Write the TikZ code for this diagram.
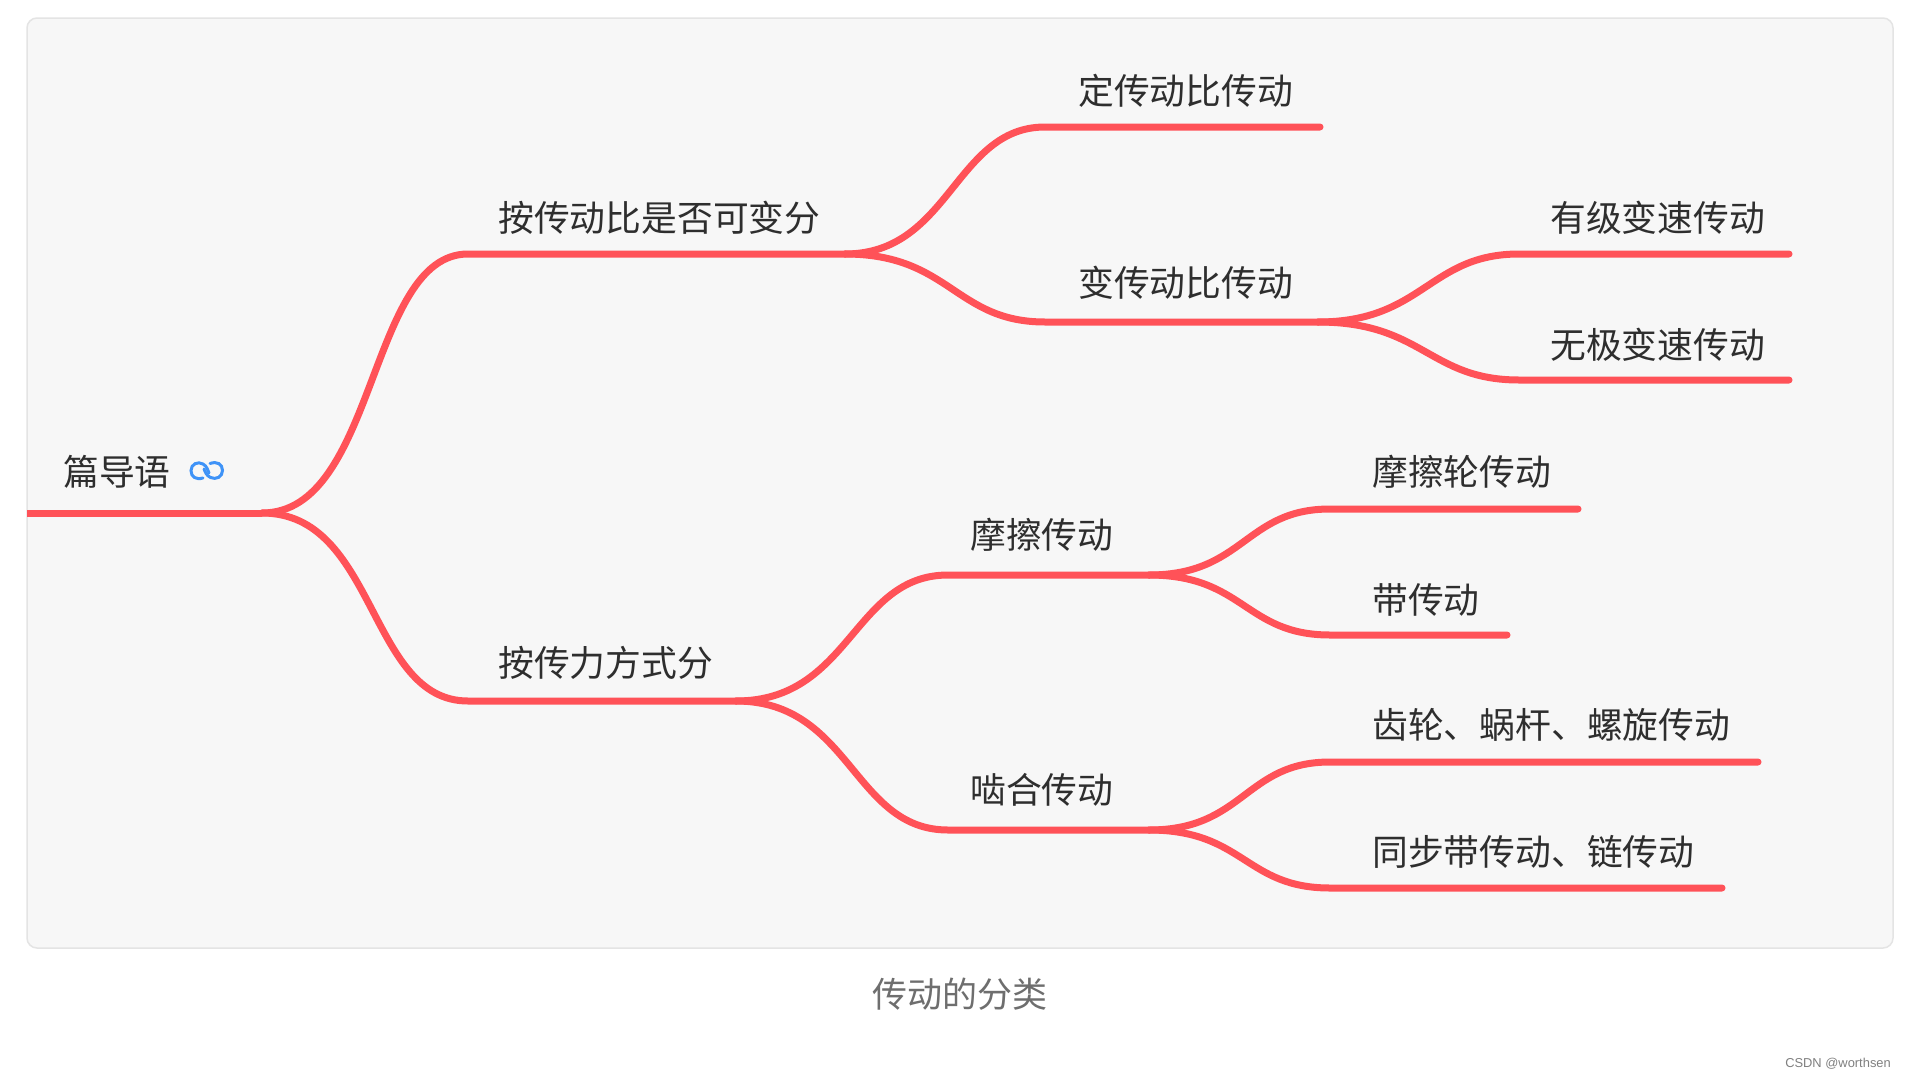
\documentclass[tikz,border=0pt]{standalone}
\usepackage{fontspec}
\setmainfont{Noto Sans CJK SC}
\newfontfamily\latinfont{Liberation Sans}
\definecolor{branchred}{HTML}{FF5258}
\definecolor{panelgrey}{HTML}{F7F7F7}
\definecolor{panelline}{HTML}{E4E4E4}
\definecolor{labeltext}{HTML}{2E2E2E}
\definecolor{captext}{HTML}{6E6E6E}
\definecolor{linkblue}{HTML}{3F93F7}
\tikzset{
  lab/.style={anchor=west,inner sep=0pt,text=labeltext,font=\fontsize{35.8}{40}\selectfont},
  branch/.style={draw=branchred,line width=7pt,line cap=round},
  rootline/.style={draw=branchred,line width=7pt,line cap=butt},
  linkloop/.style={draw=linkblue,line width=3pt,line cap=round}
}
\begin{document}
\begin{tikzpicture}[x=1pt,y=-1pt]
\useasboundingbox (0,0) rectangle (1905,1079);
\fill[white] (0,0) rectangle (1905,1079);
\draw[fill=panelgrey,draw=panelline,line width=1.5pt,rounded corners=10pt] (27,18) rectangle (1893,948);

% junctions and ends
\coordinate (rootL) at (27,513);
\coordinate (rootJ) at (262,513);
\coordinate (aS) at (468,254);
\coordinate (aJ) at (845,254);
\coordinate (bS) at (468,701);
\coordinate (bJ) at (736,701);
\coordinate (a1S) at (1045,127);
\coordinate (a1E) at (1320,127);
\coordinate (a2S) at (1045,322);
\coordinate (a2J) at (1318,322);
\coordinate (a21S) at (1519,254);
\coordinate (a21E) at (1789,254);
\coordinate (a22S) at (1519,380);
\coordinate (a22E) at (1789,380);
\coordinate (b1S) at (948,575);
\coordinate (b1J) at (1149,575);
\coordinate (b2S) at (948,830);
\coordinate (b2J) at (1149,830);
\coordinate (b11S) at (1330,509);
\coordinate (b11E) at (1578,509);
\coordinate (b12S) at (1330,635);
\coordinate (b12E) at (1507,635);
\coordinate (b21S) at (1330,762);
\coordinate (b21E) at (1758,762);
\coordinate (b22S) at (1330,888);
\coordinate (b22E) at (1722,888);

% connectors
\draw[rootline] (rootL) -- (rootJ);
\draw[branch] (rootJ) .. controls +(115,0) and +(-100,0) .. (aS) -- (aJ);
\draw[branch] (rootJ) .. controls +(115,0) and +(-100,0) .. (bS) -- (bJ);
\draw[branch] (aJ) .. controls +(105,0) and +(-90,0) .. (a1S) -- (a1E);
\draw[branch] (aJ) .. controls +(105,0) and +(-90,0) .. (a2S) -- (a2J);
\draw[branch] (a2J) .. controls +(105,0) and +(-90,0) .. (a21S) -- (a21E);
\draw[branch] (a2J) .. controls +(105,0) and +(-90,0) .. (a22S) -- (a22E);
\draw[branch] (bJ) .. controls +(115,0) and +(-95,0) .. (b1S) -- (b1J);
\draw[branch] (bJ) .. controls +(115,0) and +(-95,0) .. (b2S) -- (b2J);
\draw[branch] (b1J) .. controls +(95,0) and +(-85,0) .. (b11S) -- (b11E);
\draw[branch] (b1J) .. controls +(95,0) and +(-85,0) .. (b12S) -- (b12E);
\draw[branch] (b2J) .. controls +(95,0) and +(-85,0) .. (b21S) -- (b21E);
\draw[branch] (b2J) .. controls +(95,0) and +(-85,0) .. (b22S) -- (b22E);

% labels
\node[lab] (root) at (63,471.5) {篇导语};
\node[lab] (a) at (498,217.5) {按传动比是否可变分};
\node[lab] (b) at (498,662.5) {按传力方式分};
\node[lab] (a1) at (1078,90.5) {定传动比传动};
\node[lab] (a2) at (1078,282.5) {变传动比传动};
\node[lab] (a21) at (1550,217.5) {有级变速传动};
\node[lab] (a22) at (1550,345) {无极变速传动};
\node[lab] (b1) at (970,535) {摩擦传动};
\node[lab] (b2) at (970,790) {啮合传动};
\node[lab] (b11) at (1372,472) {摩擦轮传动};
\node[lab] (b12) at (1372,600) {带传动};
\node[lab] (b21) at (1372,725) {齿轮、蜗杆、螺旋传动};
\node[lab] (b22) at (1372,852) {同步带传动、链传动};

% link icon
\draw[linkloop] (203,478) .. controls (196,480) and (191,477) .. (191,470.5) .. controls (191,464) and (198,461) .. (203,464) .. controls (207,466) and (208,471) .. (209,473);
\draw[linkloop] (210,463.5) .. controls (217,461) and (222.5,464) .. (222.5,470.5) .. controls (222.5,477) and (216,480) .. (210.5,477.5) .. controls (206,475.5) and (205,471) .. (204,469);

% caption and watermark
\node[inner sep=0pt,text=captext,font=\fontsize{35}{40}\selectfont] (cap) at (960,994) {传动的分类};
\node[anchor=east,inner sep=0pt,text=gray,font=\latinfont\fontsize{12.9}{15}\selectfont] (mark) at (1891,1064) {CSDN @worthsen};
\end{tikzpicture}
\end{document}
